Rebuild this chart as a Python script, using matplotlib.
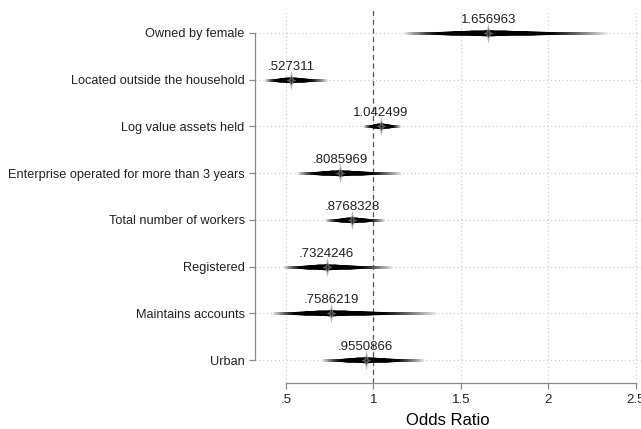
import numpy as np
import matplotlib
matplotlib.use("Agg")
import matplotlib.pyplot as plt
from matplotlib.path import Path

plt.rcParams['font.family'] = ['Liberation Sans', 'DejaVu Sans']

labels = [
    "Owned by female",
    "Located outside the household",
    "Log value assets held",
    "Enterprise operated for more than 3 years",
    "Total number of workers",
    "Registered",
    "Maintains accounts",
    "Urban",
]
odds = [1.656963, 0.527311, 1.042499, 0.8085969, 0.8768328, 0.7324246, 0.7586219, 0.9550866]
# outer (99%) interval bounds
ci_lo = [1.174, 0.380, 0.940, 0.567, 0.723, 0.483, 0.424, 0.710]
ci_hi = [2.334, 0.740, 1.151, 1.163, 1.060, 1.106, 1.357, 1.294]
xticks = [0.5, 1, 1.5, 2, 2.5]
xtick_labels = [".5", "1", "1.5", "2", "2.5"]


def stata_fmt(v):
    s = f"{v:.7g}"
    return s[1:] if s.startswith("0.") else s


fig = plt.figure(figsize=(6.41, 4.29), dpi=100)
ax = fig.add_axes([0.398, 0.107, 0.602, 0.870])

ypos = np.arange(1, len(labels) + 1)

# smoothed confidence bands: nested intervals drawn wide/light/thin -> narrow/dark/thick
fracs = np.linspace(1.0, 0.02, 70)
for y, b, lo, hi in zip(ypos, odds, ci_lo, ci_hi):
    lb = np.log(b)
    half = (np.log(hi) - np.log(lo)) / 2
    for f in fracs:
        shade = 0.9 * np.clip((f - 0.55) / 0.45, 0, 1) ** 1.2
        lw = 2.0 + 2.2 * (1 - f) ** 3
        ax.plot([np.exp(lb - f * half), np.exp(lb + f * half)], [y, y],
                color=str(shade), lw=lw, solid_capstyle='butt', zorder=3)

# point markers: tall thin four-point star
star = Path([(0, 1), (0.2, 0.12), (0.5, 0), (0.2, -0.12), (0, -1),
             (-0.2, -0.12), (-0.5, 0), (-0.2, 0.12), (0, 1)],
            closed=True)
ax.scatter(odds, ypos, marker=star, s=200, color='#9a9a9a', alpha=0.7,
           linewidths=0, zorder=4)
ax.scatter(odds, ypos, marker=star, s=50, color='#333333', linewidths=0, zorder=5)

for y, b in zip(ypos, odds):
    ax.annotate(stata_fmt(b), (b, y), xytext=(0, 5), textcoords='offset points',
                ha='center', va='bottom', fontsize=9.5, color='#222222', zorder=6)

ax.axvline(1, color='#555555', lw=0.9, ls=(0, (4, 3)), zorder=2)

ax.set_xlim(0.323, 2.53)
ax.set_ylim(8.49, 0.507)
ax.set_xticks(xticks)
ax.set_xticklabels(xtick_labels, fontsize=9.5)
ax.set_yticks(ypos)
ax.set_yticklabels(labels, fontsize=9.2)
ax.set_xlabel("Odds Ratio", fontsize=12, labelpad=5)

ax.grid(True, color='#c8c8c8', lw=0.8, ls=(0, (1, 2.5)), zorder=0)
for side in ['top', 'right']:
    ax.spines[side].set_visible(False)
ax.spines['left'].set_bounds(1, 8)
ax.spines['bottom'].set_bounds(0.5, 2.5)
for side in ['left', 'bottom']:
    ax.spines[side].set_color('#8a8a8a')
    ax.spines[side].set_linewidth(0.9)
ax.tick_params(axis='both', colors='#8a8a8a', labelcolor='#222222', length=4, width=0.9)
ax.tick_params(axis='x', pad=4)

fig.savefig("out.png", dpi=100)
